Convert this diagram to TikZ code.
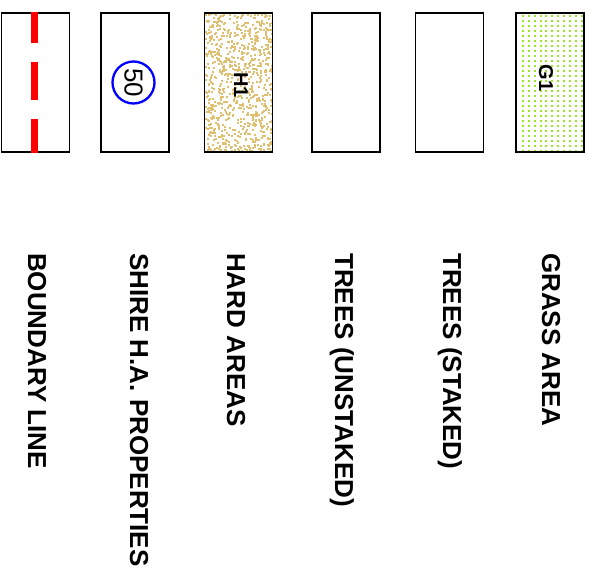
\documentclass[tikz,border=0pt]{standalone}
\usepackage{fontspec}
\setmainfont{Liberation Sans}
\usepackage{xcolor}
\usepackage{tikz}
\usetikzlibrary{positioning,calc}

\definecolor{hardtan}{RGB}{222,192,112}
\definecolor{grassgreen}{RGB}{150,232,40}

\begin{document}
\begin{tikzpicture}[
  x=1pt, y=-1pt,
  keybox/.style={draw, line width=1.5pt, minimum width=68pt, minimum height=139pt, inner sep=0pt},
  keylabel/.style={rotate=-90, anchor=base west, inner sep=0pt, font=\fontsize{26}{26}\selectfont\bfseries},
  code/.style={rotate=-90, anchor=base, inner sep=0pt, font=\fontsize{20}{20}\selectfont\bfseries},
  bndline/.style={red, line width=6.5pt, dash pattern=on 38pt off 19pt, dash phase=7pt},
  hardfill/.style={path picture={
      \pgfmathsetseed{42}
      \foreach \i in {1,...,900}
        \fill[hardtan] ($(path picture bounding box.north west)+(rnd*69,rnd*140)$) rectangle ++(2,2);
    }},
  grassfill/.style={path picture={
      \foreach \gx in {0,...,10}
        \foreach \gy in {0,...,27}
          \fill[grassgreen] ($(path picture bounding box.north west)+(6+\gx*5.85,2.5+\gy*5)$) rectangle ++(2,2);
    }}
]
\useasboundingbox (0,0) rectangle (597,588);

% key boxes
\node[keybox] (bnd) at (35.5,82.5) {};
\node[keybox, right=30pt of bnd] (sha) {};
\node[keybox, hardfill, right=34pt of sha] (hard) {};
\node[keybox, right=38pt of hard] (tunst) {};
\node[keybox, right=34pt of tunst] (tst) {};
\node[keybox, grassfill, right=31pt of tst] (grass) {};

% symbols
\draw[bndline] ([xshift=-1pt]bnd.north) -- ([xshift=-1pt]bnd.south);
\node[draw=blue, circle, line width=2.3pt, minimum size=42pt, inner sep=0pt] (sha50) at ([xshift=-1.5pt]sha.center) {};
\node[rotate=-90, inner sep=0pt, font=\fontsize{26}{26}\selectfont] (num50) at (sha50) {50};
\node[code] (hcode) at (234,85) {H1};
\node[code] (gcode) at (539,78) {G1};

% labels
\node[keylabel] (lbnd) at (28,253) {BOUNDARY LINE};
\node[keylabel] (lsha) at (130,253) {SHIRE H.A. PROPERTIES};
\node[keylabel] (lhard) at (227,253) {HARD AREAS};
\node[keylabel] (ltunst) at (335,253) {TREES (UNSTAKED)};
\node[keylabel] (ltst) at (443,253) {TREES (STAKED)};
\node[keylabel] (lgrass) at (542,253) {GRASS AREA};
\end{tikzpicture}
\end{document}
